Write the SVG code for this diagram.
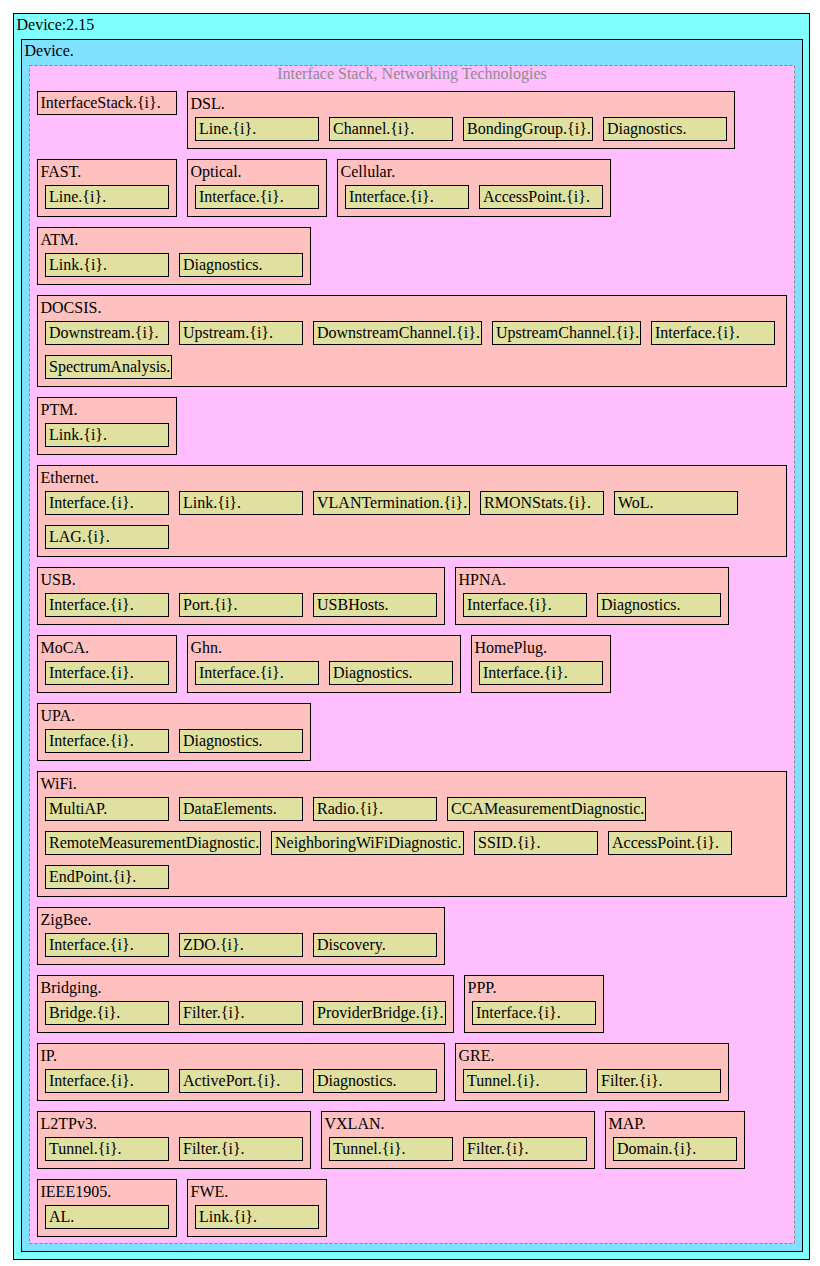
<svg xmlns="http://www.w3.org/2000/svg" width="820" height="1266" viewBox="0 0 820 1266">
<style>
  text { font-family: "Liberation Serif", "Times New Roman", serif; font-size: 16px; fill: #000; }
  .root { fill: #80ffff; stroke: #000; stroke-width: 1; }
  .dev { fill: #80e0ff; stroke: #000; stroke-width: 1; }
  .cluster { fill: #ffbfff; stroke: #888; stroke-width: 1; stroke-dasharray: 3 2; }
  .ctitle { fill: #8c8c8c; text-anchor: middle; }
  .obj { fill: #ffc0c0; stroke: #000; stroke-width: 1; }
  .leaf { fill: #e0e0a0; stroke: #000; stroke-width: 1; }
</style>

<!-- root container -->
<g id="device-root">
  <rect class="root" x="13.5" y="13.5" width="796" height="1246"/>
  <text x="16.5" y="30">Device:2.15</text>
</g>
<g id="device">
  <rect class="dev" x="21.5" y="39.5" width="781" height="1212"/>
  <text x="24.5" y="56">Device.</text>
</g>
<g id="cluster-interfaces">
  <rect class="cluster" x="29.5" y="65.5" width="765" height="1178"/>
  <text class="ctitle" x="412" y="79">Interface Stack, Networking Technologies</text>
</g>

<!-- row 1 -->
<g id="InterfaceStack">
  <rect class="obj" x="37.5" y="91.5" width="139" height="23"/>
  <text x="40.5" y="108">InterfaceStack.{i}.</text>
</g>
<g id="DSL">
  <rect class="obj" x="187.5" y="91.5" width="547" height="57"/>
  <text x="190.5" y="108.5">DSL.</text>
  <rect class="leaf" x="195.5" y="117.5" width="123" height="23"/><text x="199" y="134">Line.{i}.</text>
  <rect class="leaf" x="329.5" y="117.5" width="123" height="23"/><text x="333" y="134">Channel.{i}.</text>
  <rect class="leaf" x="463.5" y="117.5" width="129" height="23"/><text x="467" y="134">BondingGroup.{i}.</text>
  <rect class="leaf" x="603.5" y="117.5" width="123" height="23"/><text x="607" y="134">Diagnostics.</text>
</g>

<!-- row 2 -->
<g id="FAST">
  <rect class="obj" x="37.5" y="159.5" width="139" height="57"/>
  <text x="40.5" y="176.5">FAST.</text>
  <rect class="leaf" x="45.5" y="185.5" width="123" height="23"/><text x="49" y="202">Line.{i}.</text>
</g>
<g id="Optical">
  <rect class="obj" x="187.5" y="159.5" width="139" height="57"/>
  <text x="190.5" y="176.5">Optical.</text>
  <rect class="leaf" x="195.5" y="185.5" width="123" height="23"/><text x="199" y="202">Interface.{i}.</text>
</g>
<g id="Cellular">
  <rect class="obj" x="337.5" y="159.5" width="273" height="57"/>
  <text x="340.5" y="176.5">Cellular.</text>
  <rect class="leaf" x="345.5" y="185.5" width="123" height="23"/><text x="349" y="202">Interface.{i}.</text>
  <rect class="leaf" x="479.5" y="185.5" width="123" height="23"/><text x="483" y="202">AccessPoint.{i}.</text>
</g>

<!-- row 3 -->
<g id="ATM">
  <rect class="obj" x="37.5" y="227.5" width="273" height="57"/>
  <text x="40.5" y="244.5">ATM.</text>
  <rect class="leaf" x="45.5" y="253.5" width="123" height="23"/><text x="49" y="270">Link.{i}.</text>
  <rect class="leaf" x="179.5" y="253.5" width="123" height="23"/><text x="183" y="270">Diagnostics.</text>
</g>

<!-- row 4 -->
<g id="DOCSIS">
  <rect class="obj" x="37.5" y="295.5" width="749" height="91"/>
  <text x="40.5" y="312.5">DOCSIS.</text>
  <rect class="leaf" x="45.5" y="321.5" width="123" height="23"/><text x="49" y="338">Downstream.{i}.</text>
  <rect class="leaf" x="179.5" y="321.5" width="123" height="23"/><text x="183" y="338">Upstream.{i}.</text>
  <rect class="leaf" x="313.5" y="321.5" width="168" height="23"/><text x="317" y="338">DownstreamChannel.{i}.</text>
  <rect class="leaf" x="492.5" y="321.5" width="148" height="23"/><text x="496" y="338">UpstreamChannel.{i}.</text>
  <rect class="leaf" x="651.5" y="321.5" width="123" height="23"/><text x="655" y="338">Interface.{i}.</text>
  <rect class="leaf" x="45.5" y="355.5" width="126" height="23"/><text x="49" y="372">SpectrumAnalysis.</text>
</g>

<!-- row 5 -->
<g id="PTM">
  <rect class="obj" x="37.5" y="397.5" width="139" height="57"/>
  <text x="40.5" y="414.5">PTM.</text>
  <rect class="leaf" x="45.5" y="423.5" width="123" height="23"/><text x="49" y="440">Link.{i}.</text>
</g>

<!-- row 6 -->
<g id="Ethernet">
  <rect class="obj" x="37.5" y="465.5" width="749" height="91"/>
  <text x="40.5" y="482.5">Ethernet.</text>
  <rect class="leaf" x="45.5" y="491.5" width="123" height="23"/><text x="49" y="508">Interface.{i}.</text>
  <rect class="leaf" x="179.5" y="491.5" width="123" height="23"/><text x="183" y="508">Link.{i}.</text>
  <rect class="leaf" x="313.5" y="491.5" width="156" height="23"/><text x="317" y="508">VLANTermination.{i}.</text>
  <rect class="leaf" x="480.5" y="491.5" width="123" height="23"/><text x="484" y="508">RMONStats.{i}.</text>
  <rect class="leaf" x="614.5" y="491.5" width="123" height="23"/><text x="618" y="508">WoL.</text>
  <rect class="leaf" x="45.5" y="525.5" width="123" height="23"/><text x="49" y="542">LAG.{i}.</text>
</g>

<!-- row 7 -->
<g id="USB">
  <rect class="obj" x="37.5" y="567.5" width="407" height="57"/>
  <text x="40.5" y="584.5">USB.</text>
  <rect class="leaf" x="45.5" y="593.5" width="123" height="23"/><text x="49" y="610">Interface.{i}.</text>
  <rect class="leaf" x="179.5" y="593.5" width="123" height="23"/><text x="183" y="610">Port.{i}.</text>
  <rect class="leaf" x="313.5" y="593.5" width="123" height="23"/><text x="317" y="610">USBHosts.</text>
</g>
<g id="HPNA">
  <rect class="obj" x="455.5" y="567.5" width="273" height="57"/>
  <text x="458.5" y="584.5">HPNA.</text>
  <rect class="leaf" x="463.5" y="593.5" width="123" height="23"/><text x="467" y="610">Interface.{i}.</text>
  <rect class="leaf" x="597.5" y="593.5" width="123" height="23"/><text x="601" y="610">Diagnostics.</text>
</g>

<!-- row 8 -->
<g id="MoCA">
  <rect class="obj" x="37.5" y="635.5" width="139" height="57"/>
  <text x="40.5" y="652.5">MoCA.</text>
  <rect class="leaf" x="45.5" y="661.5" width="123" height="23"/><text x="49" y="678">Interface.{i}.</text>
</g>
<g id="Ghn">
  <rect class="obj" x="187.5" y="635.5" width="273" height="57"/>
  <text x="190.5" y="652.5">Ghn.</text>
  <rect class="leaf" x="195.5" y="661.5" width="123" height="23"/><text x="199" y="678">Interface.{i}.</text>
  <rect class="leaf" x="329.5" y="661.5" width="123" height="23"/><text x="333" y="678">Diagnostics.</text>
</g>
<g id="HomePlug">
  <rect class="obj" x="471.5" y="635.5" width="139" height="57"/>
  <text x="474.5" y="652.5">HomePlug.</text>
  <rect class="leaf" x="479.5" y="661.5" width="123" height="23"/><text x="483" y="678">Interface.{i}.</text>
</g>

<!-- row 9 -->
<g id="UPA">
  <rect class="obj" x="37.5" y="703.5" width="273" height="57"/>
  <text x="40.5" y="720.5">UPA.</text>
  <rect class="leaf" x="45.5" y="729.5" width="123" height="23"/><text x="49" y="746">Interface.{i}.</text>
  <rect class="leaf" x="179.5" y="729.5" width="123" height="23"/><text x="183" y="746">Diagnostics.</text>
</g>

<!-- row 10 -->
<g id="WiFi">
  <rect class="obj" x="37.5" y="771.5" width="749" height="125"/>
  <text x="40.5" y="788.5">WiFi.</text>
  <rect class="leaf" x="45.5" y="797.5" width="123" height="23"/><text x="49" y="814">MultiAP.</text>
  <rect class="leaf" x="179.5" y="797.5" width="123" height="23"/><text x="183" y="814">DataElements.</text>
  <rect class="leaf" x="313.5" y="797.5" width="123" height="23"/><text x="317" y="814">Radio.{i}.</text>
  <rect class="leaf" x="447.5" y="797.5" width="198" height="23"/><text x="451" y="814">CCAMeasurementDiagnostic.</text>
  <rect class="leaf" x="45.5" y="831.5" width="215" height="23"/><text x="49" y="848">RemoteMeasurementDiagnostic.</text>
  <rect class="leaf" x="271.5" y="831.5" width="192" height="23"/><text x="275" y="848">NeighboringWiFiDiagnostic.</text>
  <rect class="leaf" x="474.5" y="831.5" width="123" height="23"/><text x="478" y="848">SSID.{i}.</text>
  <rect class="leaf" x="608.5" y="831.5" width="123" height="23"/><text x="612" y="848">AccessPoint.{i}.</text>
  <rect class="leaf" x="45.5" y="865.5" width="123" height="23"/><text x="49" y="882">EndPoint.{i}.</text>
</g>

<!-- row 11 -->
<g id="ZigBee">
  <rect class="obj" x="37.5" y="907.5" width="407" height="57"/>
  <text x="40.5" y="924.5">ZigBee.</text>
  <rect class="leaf" x="45.5" y="933.5" width="123" height="23"/><text x="49" y="950">Interface.{i}.</text>
  <rect class="leaf" x="179.5" y="933.5" width="123" height="23"/><text x="183" y="950">ZDO.{i}.</text>
  <rect class="leaf" x="313.5" y="933.5" width="123" height="23"/><text x="317" y="950">Discovery.</text>
</g>

<!-- row 12 -->
<g id="Bridging">
  <rect class="obj" x="37.5" y="975.5" width="416" height="57"/>
  <text x="40.5" y="992.5">Bridging.</text>
  <rect class="leaf" x="45.5" y="1001.5" width="123" height="23"/><text x="49" y="1018">Bridge.{i}.</text>
  <rect class="leaf" x="179.5" y="1001.5" width="123" height="23"/><text x="183" y="1018">Filter.{i}.</text>
  <rect class="leaf" x="313.5" y="1001.5" width="132" height="23"/><text x="317" y="1018">ProviderBridge.{i}.</text>
</g>
<g id="PPP">
  <rect class="obj" x="464.5" y="975.5" width="139" height="57"/>
  <text x="467.5" y="992.5">PPP.</text>
  <rect class="leaf" x="472.5" y="1001.5" width="123" height="23"/><text x="476" y="1018">Interface.{i}.</text>
</g>

<!-- row 13 -->
<g id="IP">
  <rect class="obj" x="37.5" y="1043.5" width="407" height="57"/>
  <text x="40.5" y="1060.5">IP.</text>
  <rect class="leaf" x="45.5" y="1069.5" width="123" height="23"/><text x="49" y="1086">Interface.{i}.</text>
  <rect class="leaf" x="179.5" y="1069.5" width="123" height="23"/><text x="183" y="1086">ActivePort.{i}.</text>
  <rect class="leaf" x="313.5" y="1069.5" width="123" height="23"/><text x="317" y="1086">Diagnostics.</text>
</g>
<g id="GRE">
  <rect class="obj" x="455.5" y="1043.5" width="273" height="57"/>
  <text x="458.5" y="1060.5">GRE.</text>
  <rect class="leaf" x="463.5" y="1069.5" width="123" height="23"/><text x="467" y="1086">Tunnel.{i}.</text>
  <rect class="leaf" x="597.5" y="1069.5" width="123" height="23"/><text x="601" y="1086">Filter.{i}.</text>
</g>

<!-- row 14 -->
<g id="L2TPv3">
  <rect class="obj" x="37.5" y="1111.5" width="273" height="57"/>
  <text x="40.5" y="1128.5">L2TPv3.</text>
  <rect class="leaf" x="45.5" y="1137.5" width="123" height="23"/><text x="49" y="1154">Tunnel.{i}.</text>
  <rect class="leaf" x="179.5" y="1137.5" width="123" height="23"/><text x="183" y="1154">Filter.{i}.</text>
</g>
<g id="VXLAN">
  <rect class="obj" x="321.5" y="1111.5" width="273" height="57"/>
  <text x="324.5" y="1128.5">VXLAN.</text>
  <rect class="leaf" x="329.5" y="1137.5" width="123" height="23"/><text x="333" y="1154">Tunnel.{i}.</text>
  <rect class="leaf" x="463.5" y="1137.5" width="123" height="23"/><text x="467" y="1154">Filter.{i}.</text>
</g>
<g id="MAP">
  <rect class="obj" x="605.5" y="1111.5" width="139" height="57"/>
  <text x="608.5" y="1128.5">MAP.</text>
  <rect class="leaf" x="613.5" y="1137.5" width="123" height="23"/><text x="617" y="1154">Domain.{i}.</text>
</g>

<!-- row 15 -->
<g id="IEEE1905">
  <rect class="obj" x="37.5" y="1179.5" width="139" height="57"/>
  <text x="40.5" y="1196.5">IEEE1905.</text>
  <rect class="leaf" x="45.5" y="1205.5" width="123" height="23"/><text x="49" y="1222">AL.</text>
</g>
<g id="FWE">
  <rect class="obj" x="187.5" y="1179.5" width="139" height="57"/>
  <text x="190.5" y="1196.5">FWE.</text>
  <rect class="leaf" x="195.5" y="1205.5" width="123" height="23"/><text x="199" y="1222">Link.{i}.</text>
</g>
</svg>
